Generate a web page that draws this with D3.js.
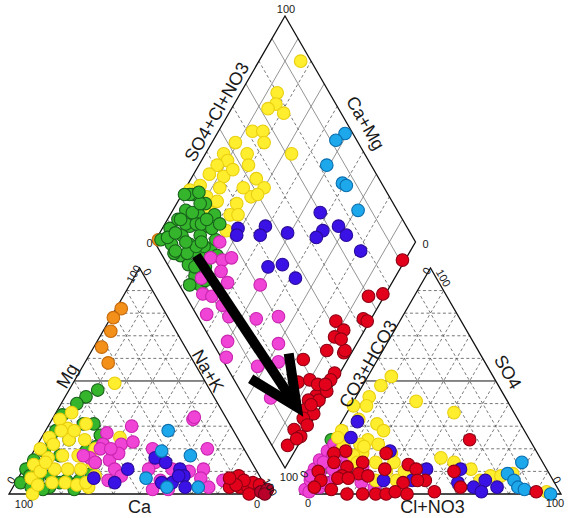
<!DOCTYPE html>
<html>
<head>
<meta charset="utf-8">
<script src="https://cdn.jsdelivr.net/npm/d3@7"></script>
<style>
  body { margin: 0; background: #fff; }
  text { font-family: "Liberation Sans", Arial, sans-serif; fill: #1a1a1a; }
</style>
</head>
<body>
<svg id="chart" width="568" height="518"></svg>
<script>
// ---- Cation triangle samples: [Ca, Mg] in % meq/L (Na+K = 100 - Ca - Mg)
const cationOrange = [[16,82],[21,78],[25,72],[32,65],[33,58]];
const cationGreen = [[43,46],[49,43],[54,40],[62,35],[56,31],[52,31],[52,26],[72,24],[77,19],[83,15],[88,11],[93,5],[86,6],[80,8],[78,5],[70,6],[64,9],[83,3],[90,3],[86,2],[75,6],[56,21],[60,14],[83,11],[72,17],[65,24],[88,8],[61,19],[74,2],[68,28]];
const cationYellow = [[35,49],[91,0],[58,36],[55,31],[64,33],[63,29],[72,25],[78,20],[72,22],[65,24],[59,24],[57,20],[84,13],[77,16],[71,17],[65,17],[61,14],[88,7],[83,10],[77,11],[72,11],[67,11],[63,8],[87,4],[81,5],[76,5],[72,4],[68,3],[66,28],[79,14],[61,28],[68,5],[45,25]];
const cationMagenta = [[38,30],[13,33],[49,27],[46,22],[41,23],[53,22],[61,16],[60,14],[54,15],[54,11],[53,8],[35,20],[37,14],[41,11],[39,6],[32,11],[26,10],[14,20],[20,11],[23,7],[22,3],[44,2],[15,6],[55,20],[49,18],[63,17],[12,34],[38,2],[59,6],[51,20]];
const cationBlue = [[64,7],[57,5],[49,11],[36,16],[33,14],[29,11],[29,8],[35,5],[31,3],[39,5],[31,8]];
const cationLightBlue = [[25,28],[32,19],[22,17],[44,7],[38,3],[26,3]];
const cationRed = [[8,8],[14,3],[10,3],[7,3],[4,2],[4,5],[7,6],[11,4],[12,7],[2,4],[8,0]];
const cationDarkRed = [[3,1],[1,1],[0,2],[2,0]];

// ---- Anion triangle samples: [Cl+NO3, SO4] in % meq/L (CO3+HCO3 = remainder)
const anionGreen = [[0,24],[3,2],[9,5],[14,8],[4,12],[2,7]];
const anionMagenta = [[1,2],[1,6],[0,11],[0,15],[1,19],[2,22],[6,3],[7,5],[10,7],[10,12],[5,14],[3,9],[4,17],[5,19],[10,16],[14,14],[18,12],[21,5],[27,3],[27,5],[7,11],[2,14],[0,8],[3,1]];
const anionYellow = [[9,52],[7,48],[5,43],[1,39],[6,39],[24,41],[41,36],[6,33],[14,31],[18,28],[14,24],[2,28],[6,21],[12,22],[19,22],[26,18],[15,18],[12,17],[46,16],[52,14],[60,11],[66,6],[69,8],[94,1],[34,6],[35,10],[22,14],[29,14],[14,21],[15,14],[26,6],[2,25],[28,10],[77,9],[73,8]];
const anionBlue = [[6,32],[7,25],[25,19],[43,11],[56,11],[58,5],[68,6],[74,3],[65,3],[69,1],[40,6],[29,6]];
const anionLightBlue = [[78,14],[75,9],[79,6],[82,3],[85,2],[96,0]];
const anionRed = [[53,24],[24,18],[8,19],[4,18],[35,13],[39,11],[45,6],[54,10],[60,3],[90,1],[51,1],[37,5],[42,6],[17,14],[18,9],[12,12],[12,8],[2,10],[5,6],[4,3],[11,2],[18,0],[24,0],[29,0],[33,0],[36,1],[41,0],[11,7],[15,7],[6,14],[22,8],[27,11]];

// ---- Diamond field samples: [Ca+Mg, SO4+Cl+NO3] in %
const diamondOrange = [[99,2]];
const diamondGreen = [[98,3],[97,9],[96,14],[95,19],[96,25],[93,6],[91,12],[90,17],[89,23],[89,28],[87,7],[86,13],[84,19],[83,24],[83,29],[82,8],[80,14],[77,20],[77,8],[75,14],[77,24],[73,8],[97,24],[96,6],[94,10],[92,16],[88,20],[85,10],[90,5],[80,18],[86,22],[92,21],[83,15],[99,22],[91,26],[81,25],[79,29],[73,21],[72,11],[77,4],[90,6],[94,28],[85,25],[88,12],[82,18],[79,10],[95,15]];
const diamondYellow = [[84,96],[86,80],[84,77],[79,78],[86,73],[87,62],[83,66],[80,64],[91,53],[93,46],[84,55],[81,53],[67,72],[90,46],[93,41],[94,36],[88,41],[86,46],[75,53],[70,54],[73,47],[71,50],[77,40],[87,37],[95,30],[90,30],[85,33],[77,35],[74,38],[85,28],[88,26],[75,30],[98,25],[78,46]];
const diamondMagenta = [[75,25],[75,18],[70,22],[67,26],[68,19],[74,10],[63,19],[70,7],[66,10],[60,12],[64,4],[55,12],[50,31],[44,22],[36,31],[50,6],[47,2],[30,25],[33,12],[26,21],[21,10]];
const diamondBlue = [[43,70],[33,74],[38,67],[39,63],[28,75],[61,46],[71,35],[70,33],[61,42],[51,53],[51,38],[46,44],[38,46],[19,77]];
const diamondLightBlue = [[51,97],[53,92],[51,83],[41,85],[39,86],[29,85]];
const diamondRed = [[1,91],[1,76],[6,70],[3,63],[1,64],[13,52],[8,53],[10,48],[10,42],[3,48],[17,31],[14,24],[10,29],[2,40],[2,37],[3,32],[4,28],[6,24],[2,28],[1,33],[5,21],[1,23],[4,18],[5,12],[1,13],[4,6],[1,18],[2,11],[3,49],[7,50],[4,24],[6,31],[3,34]];

// Evolution arrow across the diamond: [Ca+Mg, SO4+Cl+NO3] start and end
const arrowFrom = [81,13];
const arrowTo = [9,18];

// Grid percentages and tick text
const gridSteps = [10,20,30,40,50,60,70,80,90];
const tickLow = "0", tickHigh = "100";

// ---- Layout
const SQ3 = Math.sqrt(3);
const side = 261, gap = 30, x0 = 9, baseY = 494;
const len = d3.scaleLinear().domain([0, 100]).range([0, side]);
const ax0 = x0 + side + gap;                 // anion triangle left corner
const Bx = x0 + side + gap / 2;              // diamond bottom vertex
const By = baseY - gap * SQ3 / 2;

function cationXY([ca, mg]) {
  const na = 100 - ca - mg;
  return [x0 + len(na) + len(mg) / 2, baseY - len(mg) * SQ3 / 2];
}
function anionXY([cl, so4]) {
  return [ax0 + len(cl) + len(so4) / 2, baseY - len(so4) * SQ3 / 2];
}
function diamondXY([camg, so4cl]) {
  return [Bx + len(so4cl - camg) / 2, By - len(camg + so4cl) * SQ3 / 2];
}

const styles = {
  orange:    { fill: "#f39019", stroke: "#c46a0c" },
  green:     { fill: "#35b52c", stroke: "#17621a" },
  yellow:    { fill: "#ffee2e", stroke: "#e9cf10" },
  magenta:   { fill: "#f044d6", stroke: "#c926b0" },
  blue:      { fill: "#3b12e6", stroke: "#2a0a9c" },
  lightblue: { fill: "#1ea8ec", stroke: "#0b6eae" },
  red:       { fill: "#e3001a", stroke: "#8e0014" },
  darkred:   { fill: "#b8002a", stroke: "#6e0016" }
};

const svg = d3.select("#chart");
const line = d3.line();

const gGrid = svg.append("g");
const gFrame = svg.append("g");
const gPts = svg.append("g");
const gText = svg.append("g");

function seg(g, a, b, cls) {
  const p = g.append("path").attr("d", line([a, b])).attr("fill", "none");
  if (cls === "dash") p.attr("stroke", "#555").attr("stroke-width", 0.8).attr("stroke-dasharray", "3,2.5");
  else if (cls === "solidgrey") p.attr("stroke", "#777").attr("stroke-width", 0.8);
  else p.attr("stroke", "#111").attr("stroke-width", 1);
  return p;
}

// Triangle and diamond grids
gridSteps.forEach(k => {
  const major = k === 50 ? "solid" : "dash";
  // cation
  seg(gGrid, cationXY([100 - k, k]), cationXY([0, k]), major);
  seg(gGrid, cationXY([k, 0]), cationXY([k, 100 - k]), "dash");
  seg(gGrid, cationXY([100 - k, 0]), cationXY([0, 100 - k]), "dash");
  // anion
  seg(gGrid, anionXY([0, k]), anionXY([100 - k, k]), major);
  seg(gGrid, anionXY([k, 0]), anionXY([k, 100 - k]), "dash");
  seg(gGrid, anionXY([100 - k, 0]), anionXY([0, 100 - k]), "dash");
  // diamond
  const dstyle = (k / 10) % 2 === 1 ? "solidgrey" : "dash";
  seg(gGrid, diamondXY([k, 0]), diamondXY([k, 100]), dstyle);
  seg(gGrid, diamondXY([0, k]), diamondXY([100, k]), dstyle);
});

// Outlines
function outline(pts) {
  gFrame.append("path").attr("d", line(pts) + "Z")
    .attr("fill", "none").attr("stroke", "#111").attr("stroke-width", 1.3)
    .attr("stroke-linejoin", "miter");
}
outline([cationXY([100, 0]), cationXY([0, 0]), cationXY([0, 100])]);
outline([anionXY([0, 0]), anionXY([100, 0]), anionXY([0, 100])]);
outline([diamondXY([0, 0]), diamondXY([100, 0]), diamondXY([100, 100]), diamondXY([0, 100])]);

// Samples
function plot(data, project, key) {
  const s = styles[key];
  gPts.append("g").selectAll("circle").data(data).join("circle")
    .attr("cx", d => project(d)[0])
    .attr("cy", d => project(d)[1])
    .attr("r", 6.3)
    .attr("fill", s.fill)
    .attr("stroke", s.stroke)
    .attr("stroke-width", 1.1);
}
plot(cationOrange, cationXY, "orange");
plot(cationGreen, cationXY, "green");
plot(cationYellow, cationXY, "yellow");
plot(cationMagenta, cationXY, "magenta");
plot(cationBlue, cationXY, "blue");
plot(cationLightBlue, cationXY, "lightblue");
plot(cationRed, cationXY, "red");
plot(cationDarkRed, cationXY, "darkred");

plot(anionGreen, anionXY, "green");
plot(anionMagenta, anionXY, "magenta");
plot(anionYellow, anionXY, "yellow");
plot(anionBlue, anionXY, "blue");
plot(anionLightBlue, anionXY, "lightblue");
plot(anionRed, anionXY, "red");

plot(diamondOrange, diamondXY, "orange");
plot(diamondYellow, diamondXY, "yellow");
plot(diamondGreen, diamondXY, "green");
plot(diamondMagenta, diamondXY, "magenta");
plot(diamondBlue, diamondXY, "blue");
plot(diamondLightBlue, diamondXY, "lightblue");
plot(diamondRed, diamondXY, "red");

// Arrow
(function () {
  const a = diamondXY(arrowFrom), b = diamondXY(arrowTo);
  const ang = Math.atan2(a[1] - b[1], a[0] - b[0]);
  const headLen = 54, spread = 25 * Math.PI / 180;
  const h1 = [b[0] + headLen * Math.cos(ang + spread), b[1] + headLen * Math.sin(ang + spread)];
  const h2 = [b[0] + headLen * Math.cos(ang - spread), b[1] + headLen * Math.sin(ang - spread)];
  const g = svg.append("g").attr("fill", "none").attr("stroke", "#000").attr("stroke-width", 10);
  g.append("path").attr("d", line([a, b]));
  g.append("path").attr("d", line([h1, b, h2])).attr("stroke-linejoin", "miter").attr("stroke-miterlimit", 10);
})();

// Labels
function mid(p, q) { return [(p[0] + q[0]) / 2, (p[1] + q[1]) / 2]; }
function label(txt, p, dx, dy, rot, size) {
  gText.append("text")
    .attr("transform", `translate(${p[0] + dx},${p[1] + dy}) rotate(${rot})`)
    .attr("text-anchor", "middle")
    .attr("dominant-baseline", "central")
    .attr("font-size", size)
    .text(txt);
}
const cL = cationXY([100, 0]), cR = cationXY([0, 0]), cT = cationXY([0, 100]);
const aL = anionXY([0, 0]), aR = anionXY([100, 0]), aT = anionXY([0, 100]);
const dB = diamondXY([0, 0]), dL = diamondXY([100, 0]), dT = diamondXY([100, 100]), dR = diamondXY([0, 100]);

const T = 18;
label("Mg", mid(cL, cT), -7, -5, -60, T);
label("Na+K", mid(cT, cR), 3, -10, 60, T);
label("Ca", mid(cL, cR), 0, 13, 0, T);
label("CO3+HCO3", mid(aL, aT), 3, -17, -60, T);
label("SO4", mid(aT, aR), 12, -9, 60, T);
label("Cl+NO3", mid(aL, aR), 2, 13, 0, T);
label("SO4+Cl+NO3", mid(dL, dT), -3, -17, -60, T);
label("Ca+Mg", mid(dT, dR), 15, -6, 60, T);

const t = 11;
// cation corners
label(tickHigh, cT, -6, 6, -60, t);
label(tickLow, cT, 8, 4, 60, t);
label(tickLow, cL, 2, -14, -60, t);
label(tickHigh, cL, 15, 10, 0, t);
label(tickLow, cR, -13, 10, 0, t);
label(tickHigh, cR, 0, -7, 60, t);
// anion corners
label(tickLow, aT, -4, 3, -60, t);
label(tickHigh, aT, 13, 10, 60, t);
label(tickLow, aL, 4, -20, -60, t);
label(tickLow, aL, 8, 9, 0, t);
label(tickLow, aR, -4, -14, 60, t);
label(tickHigh, aR, -6, 9, 0, t);
// diamond corners
label(tickHigh, dT, 1, -7, 0, t);
label(tickLow, dL, -5, 1, 0, t);
label(tickLow, dR, 10, 2, 0, t);
label(tickHigh, dB, 4, 9, 0, t);
</script>
</body>
</html>
